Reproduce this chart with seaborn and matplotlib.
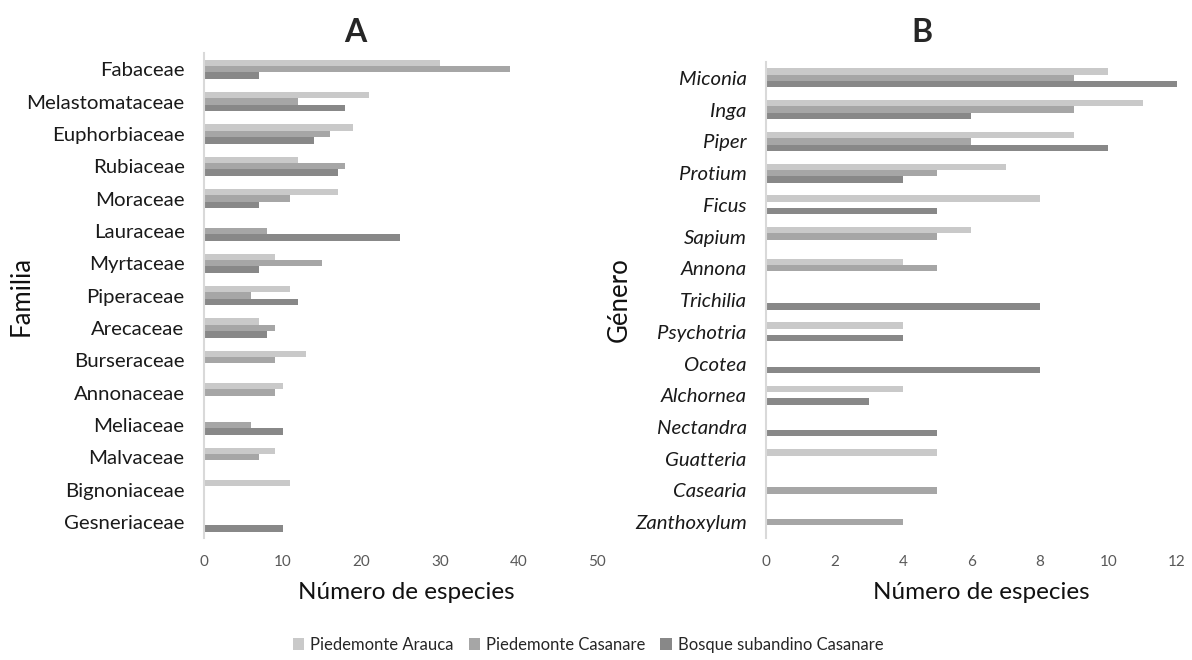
import numpy as np
import pandas as pd
import matplotlib
matplotlib.use("Agg")
import matplotlib.pyplot as plt
from matplotlib.patches import Patch
import seaborn as sns

# Series names (legend order)
series = ["Piedemonte Arauca", "Piedemonte Casanare", "Bosque subandino Casanare"]
colors = ["#c9c9c9", "#a6a6a6", "#888888"]

# Panel A: species per family
familias = ["Fabaceae", "Melastomataceae", "Euphorbiaceae", "Rubiaceae", "Moraceae",
            "Lauraceae", "Myrtaceae", "Piperaceae", "Arecaceae", "Burseraceae",
            "Annonaceae", "Meliaceae", "Malvaceae", "Bignoniaceae", "Gesneriaceae"]
fam_arauca = [30, 21, 19, 12, 17, 0, 9, 11, 7, 13, 10, 0, 9, 11, 0]
fam_casanare = [39, 12, 16, 18, 11, 8, 15, 6, 9, 9, 9, 6, 7, 0, 0]
fam_bosque = [7, 18, 14, 17, 7, 25, 7, 12, 8, 0, 0, 10, 0, 0, 10]

# Panel B: species per genus
generos = ["Miconia", "Inga", "Piper", "Protium", "Ficus", "Sapium", "Annona",
           "Trichilia", "Psychotria", "Ocotea", "Alchornea", "Nectandra",
           "Guatteria", "Casearia", "Zanthoxylum"]
gen_arauca = [10, 11, 9, 7, 8, 6, 4, 0, 4, 0, 4, 0, 5, 0, 0]
gen_casanare = [9, 9, 6, 5, 0, 5, 5, 0, 0, 0, 0, 0, 0, 5, 4]
gen_bosque = [12, 6, 10, 4, 5, 0, 0, 8, 4, 8, 3, 5, 0, 0, 0]

xticks_a = [0, 10, 20, 30, 40, 50]
xticks_b = [0, 2, 4, 6, 8, 10, 12]


def long_table(cats, a, c, b):
    return pd.DataFrame({
        "cat": list(cats) * 3,
        "serie": [series[0]] * len(cats) + [series[1]] * len(cats) + [series[2]] * len(cats),
        "n": list(a) + list(c) + list(b),
    })


sns.set_style("white")
plt.rcParams["font.family"] = ["Lato", "DejaVu Sans"]

fig = plt.figure(figsize=(11.92, 6.6), dpi=100)
ax_a = fig.add_axes([0.1711, 0.1848, 0.3297, 0.7348])
ax_b = fig.add_axes([0.6426, 0.1848, 0.3448, 0.7212])

panels = [
    (ax_a, long_table(familias, fam_arauca, fam_casanare, fam_bosque), familias,
     xticks_a, "Familia", False, -0.433, 0.514, -0.091),
    (ax_b, long_table(generos, gen_arauca, gen_casanare, gen_bosque), generos,
     xticks_b, "Género", True, -0.326, 0.525, -0.093),
]

for ax, df, cats, xt, ylab, italic, ylab_x, xlab_x, xlab_y in panels:
    sns.barplot(data=df, y="cat", x="n", hue="serie", hue_order=series, order=cats,
                palette=colors, orient="h", width=0.6, linewidth=0, saturation=1,
                legend=False, ax=ax)
    ax.set_xlim(xt[0], xt[-1])
    ax.set_xticks(xt)
    ax.tick_params(axis="x", length=0, pad=12, labelsize=11, labelcolor="#595959")
    ax.tick_params(axis="y", length=0, pad=14, labelsize=14.7, labelcolor="#1a1a1a")
    if italic:
        for lbl in ax.get_yticklabels():
            lbl.set_fontstyle("italic")
    for side in ["top", "right", "bottom"]:
        ax.spines[side].set_visible(False)
    ax.spines["left"].set_color("#d9d9d9")
    ax.spines["left"].set_linewidth(1.5)
    ax.set_xlabel("Número de especies", fontsize=17.5, color="#111111")
    ax.set_ylabel(ylab, fontsize=18.5, color="#111111")
    ax.xaxis.set_label_coords(xlab_x, xlab_y)
    ax.yaxis.set_label_coords(ylab_x, 0.5)

fig.text(355 / 1192, 1 - 32 / 660, "A", ha="center", va="center",
         fontsize=23, fontweight="bold")
fig.text(922 / 1192, 1 - 32 / 660, "B", ha="center", va="center",
         fontsize=23, fontweight="bold")

handles = [Patch(facecolor=c, edgecolor="none") for c in colors]
fig.legend(handles, series, loc="center", bbox_to_anchor=(588 / 1192, 1 - 645 / 660),
           ncol=3, frameon=False, fontsize=12, handlelength=0.7, handleheight=0.7,
           handletextpad=0.35, columnspacing=0.9, labelcolor="#262626")

fig.savefig("out.png", dpi=100)
